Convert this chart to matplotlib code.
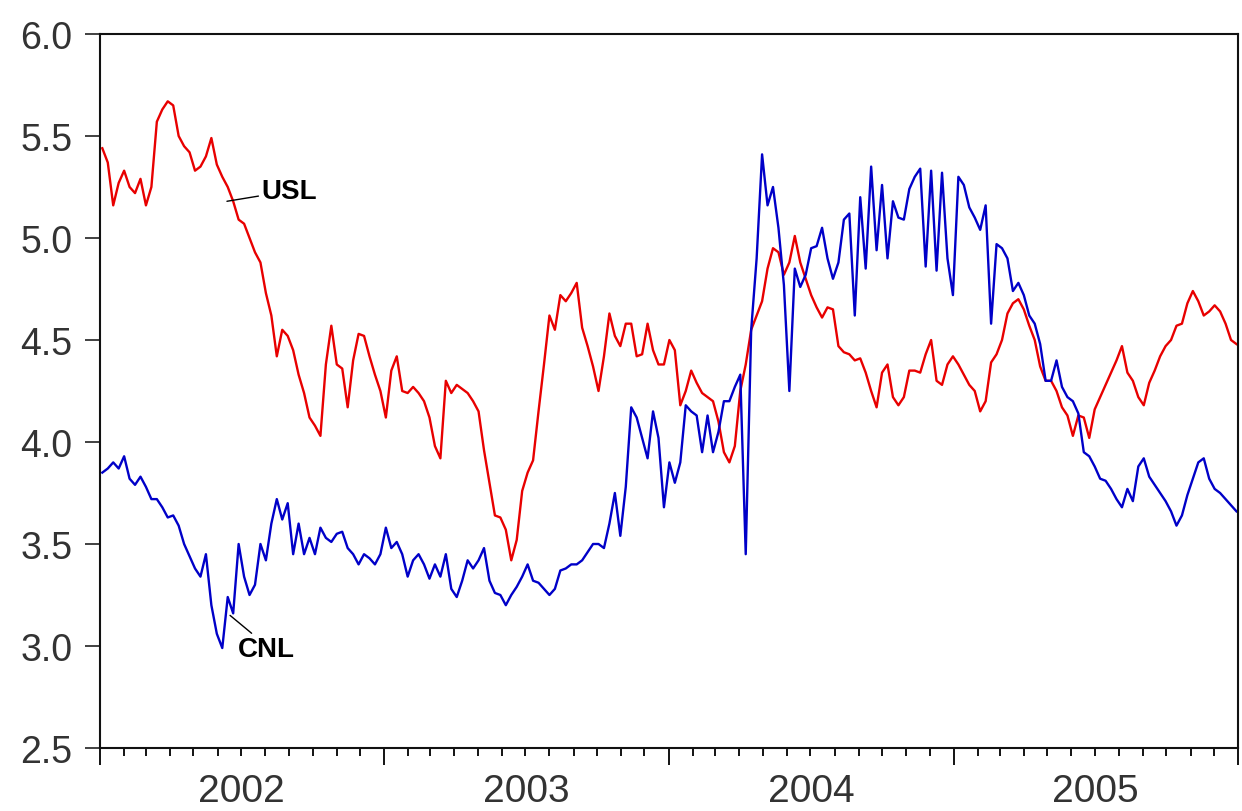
import numpy as np
import pandas as pd
import matplotlib
matplotlib.use("Agg")
import matplotlib.pyplot as plt
import matplotlib.dates as mdates
import matplotlib.transforms as mtransforms
import datetime as dt

# weekly observations, Jan 2002 - Dec 2005
usl = [5.44, 5.37, 5.16, 5.27, 5.33, 5.25, 5.22, 5.29, 5.16, 5.25,
       5.57, 5.63, 5.67, 5.65, 5.50, 5.45, 5.42, 5.33, 5.35, 5.40,
       5.49, 5.36, 5.30, 5.25, 5.18, 5.09, 5.07, 5.00, 4.93, 4.88,
       4.73, 4.62, 4.42, 4.55, 4.52, 4.45, 4.33, 4.24, 4.12, 4.08,
       4.03, 4.38, 4.57, 4.38, 4.36, 4.17, 4.40, 4.53, 4.52, 4.42,
       4.33, 4.25, 4.12, 4.35, 4.42, 4.25, 4.24, 4.27, 4.24, 4.20,
       4.12, 3.98, 3.92, 4.30, 4.24, 4.28, 4.26, 4.24, 4.20, 4.15,
       3.96, 3.80, 3.64, 3.63, 3.57, 3.42, 3.52, 3.76, 3.85, 3.91,
       4.15, 4.38, 4.62, 4.55, 4.72, 4.69, 4.73, 4.78, 4.56, 4.47,
       4.37, 4.25, 4.42, 4.63, 4.52, 4.47, 4.58, 4.58, 4.42, 4.43,
       4.58, 4.45, 4.38, 4.38, 4.50, 4.45, 4.18, 4.25, 4.35, 4.29,
       4.24, 4.22, 4.20, 4.10, 3.95, 3.90, 3.98, 4.25, 4.38, 4.55,
       4.62, 4.69, 4.85, 4.95, 4.93, 4.82, 4.88, 5.01, 4.88, 4.80,
       4.72, 4.66, 4.61, 4.66, 4.65, 4.47, 4.44, 4.43, 4.40, 4.41,
       4.34, 4.25, 4.17, 4.34, 4.38, 4.22, 4.18, 4.22, 4.35, 4.35,
       4.34, 4.43, 4.50, 4.30, 4.28, 4.38, 4.42, 4.38, 4.33, 4.28,
       4.25, 4.15, 4.20, 4.39, 4.43, 4.50, 4.63, 4.68, 4.70, 4.65,
       4.57, 4.50, 4.37, 4.30, 4.30, 4.25, 4.17, 4.13, 4.03, 4.13,
       4.12, 4.02, 4.16, 4.22, 4.28, 4.34, 4.40, 4.47, 4.34, 4.30,
       4.22, 4.18, 4.29, 4.35, 4.42, 4.47, 4.50, 4.57, 4.58, 4.68,
       4.74, 4.69, 4.62, 4.64, 4.67, 4.64, 4.58, 4.50, 4.48]

cnl = [3.85, 3.87, 3.90, 3.87, 3.93, 3.82, 3.79, 3.83, 3.78, 3.72,
       3.72, 3.68, 3.63, 3.64, 3.59, 3.50, 3.44, 3.38, 3.34, 3.45,
       3.20, 3.06, 2.99, 3.24, 3.16, 3.50, 3.34, 3.25, 3.30, 3.50,
       3.42, 3.60, 3.72, 3.62, 3.70, 3.45, 3.60, 3.45, 3.53, 3.45,
       3.58, 3.53, 3.51, 3.55, 3.56, 3.48, 3.45, 3.40, 3.45, 3.43,
       3.40, 3.45, 3.58, 3.48, 3.51, 3.45, 3.34, 3.42, 3.45, 3.40,
       3.33, 3.40, 3.34, 3.45, 3.28, 3.24, 3.32, 3.42, 3.38, 3.42,
       3.48, 3.32, 3.26, 3.25, 3.20, 3.25, 3.29, 3.34, 3.40, 3.32,
       3.31, 3.28, 3.25, 3.28, 3.37, 3.38, 3.40, 3.40, 3.42, 3.46,
       3.50, 3.50, 3.48, 3.60, 3.75, 3.54, 3.78, 4.17, 4.12, 4.02,
       3.92, 4.15, 4.02, 3.68, 3.90, 3.80, 3.90, 4.18, 4.15, 4.13,
       3.95, 4.13, 3.95, 4.05, 4.20, 4.20, 4.27, 4.33, 3.45, 4.55,
       4.90, 5.41, 5.16, 5.25, 5.05, 4.77, 4.25, 4.85, 4.76, 4.82,
       4.95, 4.96, 5.05, 4.90, 4.80, 4.88, 5.09, 5.12, 4.62, 5.20,
       4.85, 5.35, 4.94, 5.26, 4.90, 5.18, 5.10, 5.09, 5.24, 5.30,
       5.34, 4.86, 5.33, 4.84, 5.32, 4.90, 4.72, 5.30, 5.26, 5.15,
       5.10, 5.04, 5.16, 4.58, 4.97, 4.95, 4.90, 4.74, 4.78, 4.72,
       4.62, 4.58, 4.48, 4.30, 4.30, 4.40, 4.27, 4.22, 4.20, 4.14,
       3.95, 3.93, 3.88, 3.82, 3.81, 3.77, 3.72, 3.68, 3.77, 3.71,
       3.88, 3.92, 3.83, 3.79, 3.75, 3.71, 3.66, 3.59, 3.64, 3.74,
       3.82, 3.90, 3.92, 3.82, 3.77, 3.75, 3.72, 3.69, 3.66]

years = [2002, 2003, 2004, 2005]
yticks = [2.5, 3.0, 3.5, 4.0, 4.5, 5.0, 5.5, 6.0]

dates = pd.date_range("2002-01-04", periods=len(usl), freq="W-FRI")

plt.rcParams['font.family'] = ['Liberation Sans', 'DejaVu Sans']

fig = plt.figure(figsize=(12.42, 8.12), dpi=100)
ax = fig.add_axes([0.0805, 0.0776, 0.9163, 0.8793])

ax.plot(dates, usl, color='#e80000', lw=1.7)
ax.plot(dates, cnl, color='#0000c8', lw=1.7)

ax.set_xlim(dt.datetime(2002, 1, 1), dt.datetime(2006, 1, 1))
ax.set_ylim(2.5, 6.0)

ax.set_yticks(yticks)
ax.set_yticklabels(["%.1f" % v for v in yticks])
ax.tick_params(axis='y', direction='out', length=11, width=1.3, pad=9,
               labelsize=27, colors='#333333')

ax.xaxis.set_major_locator(mdates.YearLocator())
ax.xaxis.set_minor_locator(mdates.MonthLocator())
ax.xaxis.set_major_formatter(plt.NullFormatter())
ax.tick_params(axis='x', which='major', direction='out', length=12, width=1.3)
ax.tick_params(axis='x', which='minor', direction='out', length=6, width=1.3)

# year labels sit in the middle of each year
trans = mtransforms.blended_transform_factory(ax.transData, ax.transAxes)
for yr in years:
    ax.text(dt.datetime(yr, 7, 2), -0.035, str(yr), transform=trans,
            ha='center', va='top', fontsize=28, color='#333333')

for s in ax.spines.values():
    s.set_linewidth(1.5)
    s.set_color('#111111')

# series labels with leader lines
ax.annotate("USL", xy=(dt.datetime(2002, 6, 13), 5.18),
            xytext=(dt.datetime(2002, 7, 27), 5.23),
            fontsize=20, fontweight='bold', va='center', ha='left',
            arrowprops=dict(arrowstyle='-', color='black', lw=1.0,
                            shrinkA=0, shrinkB=0))
ax.annotate("CNL", xy=(dt.datetime(2002, 6, 17), 3.15),
            xytext=(dt.datetime(2002, 6, 27), 2.985),
            fontsize=20, fontweight='bold', va='center', ha='left',
            arrowprops=dict(arrowstyle='-', color='black', lw=1.0,
                            shrinkA=0, shrinkB=0,
                            relpos=(0.3, 1.0)))

fig.savefig("out.png", dpi=100, facecolor='white')
